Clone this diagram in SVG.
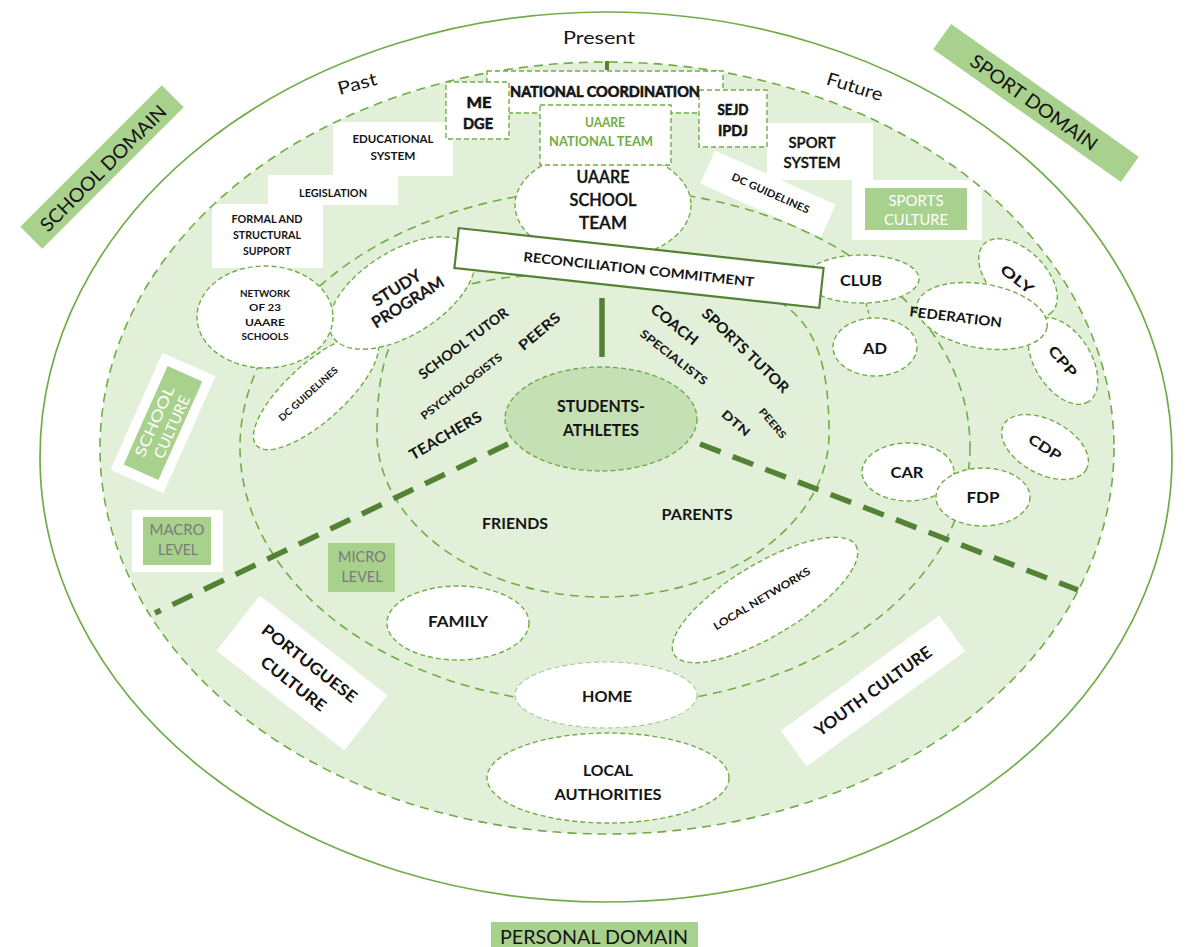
<svg xmlns="http://www.w3.org/2000/svg" width="1188" height="947" viewBox="0 0 1188 947">
  <defs>
    <style>
      .t { font-family: Lato, "Liberation Sans", sans-serif; text-anchor: middle; dominant-baseline: central; fill: #141414; }
      .b { font-weight: 700; }
      .sb { font-weight: 600; stroke: #141414; stroke-width: 0.35; }
      .heavyT { stroke: #141414; stroke-width: 0.6; }
      .band { fill: none; stroke: #70AD47; stroke-width: 1.6; stroke-dasharray: 9 6; }
      .node { fill: #ffffff; stroke: #70AD47; stroke-width: 1.4; stroke-dasharray: 5 3; }
      .nodeLight { fill: #ffffff; stroke: #a9c99a; stroke-width: 1.1; stroke-dasharray: 5 3; }
      .plain { fill: #ffffff; stroke: none; }
      .tag { fill: #A9D18E; stroke: none; }
      .heavy { fill: none; stroke: #548235; stroke-width: 5.5; stroke-dasharray: 22 13; }
      .grey { fill: #7a7a7a; }
      .white { fill: #ffffff; }
      .green { fill: #70AD47; }
    </style>
  </defs>

  <rect width="1188" height="947" fill="#ffffff"/>

  <!-- domain rings -->
  <g id="rings">
    <ellipse cx="606" cy="457" rx="566" ry="445" fill="#ffffff" stroke="#70AD47" stroke-width="1.7"/>
    <ellipse cx="607" cy="448" rx="507" ry="386" fill="#E2F0D9"/>
    <ellipse cx="605" cy="447" rx="365" ry="258" fill="#ffffff" class="band"/>
  </g>

  <!-- stepped blocks of the school side -->
  <g id="educational-system">
    <rect class="plain" x="333" y="122" width="120" height="54"/>
    <text class="t b" x="393" y="138" font-size="11" textLength="81" lengthAdjust="spacingAndGlyphs">EDUCATIONAL</text>
    <text class="t b" x="393" y="155" font-size="11" textLength="45" lengthAdjust="spacingAndGlyphs">SYSTEM</text>
  </g>
  <g id="legislation">
    <rect class="plain" x="268" y="175" width="130" height="30"/>
    <text class="t b" x="333" y="192" font-size="11" textLength="68" lengthAdjust="spacingAndGlyphs">LEGISLATION</text>
  </g>
  <g id="formal-support">
    <rect class="plain" x="212" y="204" width="111" height="64"/>
    <text class="t b" x="267" y="218" font-size="11" textLength="71" lengthAdjust="spacingAndGlyphs">FORMAL AND</text>
    <text class="t b" x="267" y="234" font-size="11" textLength="68" lengthAdjust="spacingAndGlyphs">STRUCTURAL</text>
    <text class="t b" x="267" y="250" font-size="11" textLength="48" lengthAdjust="spacingAndGlyphs">SUPPORT</text>
  </g>

  <!-- stepped blocks of the sport side -->
  <g id="sport-system">
    <rect class="plain" x="767" y="123" width="106" height="57"/>
    <text class="t sb" x="812" y="142" font-size="15" textLength="47" lengthAdjust="spacingAndGlyphs">SPORT</text>
    <text class="t sb" x="812" y="162" font-size="15" textLength="57" lengthAdjust="spacingAndGlyphs">SYSTEM</text>
  </g>
  <g id="dc-guidelines-sport" transform="translate(768,194) rotate(24)">
    <rect class="plain" x="-66" y="-18" width="132" height="36"/>
    <text class="t b" x="2" y="-2" font-size="10.5" textLength="84" lengthAdjust="spacingAndGlyphs">DC GUIDELINES</text>
  </g>
  <g id="sports-culture">
    <rect class="plain" x="852" y="180" width="130" height="60"/>
    <rect class="tag" x="865" y="188" width="102" height="42"/>
    <text class="t white" x="916" y="200" font-size="15" textLength="55" lengthAdjust="spacingAndGlyphs">SPORTS</text>
    <text class="t white" x="916" y="219" font-size="15" textLength="64" lengthAdjust="spacingAndGlyphs">CULTURE</text>
  </g>

  <!-- macro ring outline -->
  <ellipse class="band" cx="607" cy="448" rx="507" ry="386"/>

  <!-- micro ring -->
  <path id="micro-ring" class="band" d="M603,273 C784,273 829,304 829,434 C829,524 727,597 603,597 C479,597 377,524 377,434 C377,304 422,273 603,273 Z"/>

  <!-- connectors -->
  <g id="connectors">
    <line class="heavy" x1="508" y1="444" x2="155" y2="613"/>
    <line class="heavy" x1="700" y1="444" x2="1078" y2="590"/>
    <line x1="602" y1="298" x2="602" y2="357" stroke="#548235" stroke-width="5.5"/>
    <line x1="607" y1="61" x2="607" y2="70" stroke="#548235" stroke-width="4"/>
    <line x1="866" y1="303" x2="870" y2="318" stroke="#70AD47" stroke-width="1.4" stroke-dasharray="4 3"/>
  </g>

  <!-- central person -->
  <g id="students-athletes">
    <ellipse cx="601" cy="419" rx="96" ry="52" fill="#C5E0B4" stroke="#70AD47" stroke-width="1.4" stroke-dasharray="5 3"/>
    <text class="t b" x="601" y="405" font-size="17" textLength="88" lengthAdjust="spacingAndGlyphs">STUDENTS-</text>
    <text class="t b" x="601" y="429" font-size="17" textLength="76" lengthAdjust="spacingAndGlyphs">ATHLETES</text>
  </g>

  <!-- school-side micro actors -->
  <g id="school-tutor"><text class="t b" font-size="14" textLength="108" lengthAdjust="spacingAndGlyphs" transform="translate(463,343) rotate(-37)">SCHOOL TUTOR</text></g>
  <g id="peers-school"><text class="t b" font-size="14" textLength="50" lengthAdjust="spacingAndGlyphs" transform="translate(539,331) rotate(-40)">PEERS</text></g>
  <g id="psychologists"><text class="t b" font-size="11" textLength="100" lengthAdjust="spacingAndGlyphs" transform="translate(461,386) rotate(-38)">PSYCHOLOGISTS</text></g>
  <g id="teachers"><text class="t b" font-size="15" textLength="81" lengthAdjust="spacingAndGlyphs" transform="translate(445,435) rotate(-30)">TEACHERS</text></g>

  <!-- sport-side micro actors -->
  <g id="coach"><text class="t b" font-size="15" textLength="56" lengthAdjust="spacingAndGlyphs" transform="translate(675,324) rotate(39)">COACH</text></g>
  <g id="specialists"><text class="t b" font-size="11.5" textLength="82" lengthAdjust="spacingAndGlyphs" transform="translate(674,357) rotate(38)">SPECIALISTS</text></g>
  <g id="sports-tutor"><text class="t b" font-size="15" textLength="114" lengthAdjust="spacingAndGlyphs" transform="translate(746,350) rotate(44)">SPORTS TUTOR</text></g>
  <g id="dtn"><text class="t b" font-size="12" textLength="33" lengthAdjust="spacingAndGlyphs" transform="translate(736,423) rotate(41)">DTN</text></g>
  <g id="peers-sport"><text class="t b" font-size="10" textLength="36" lengthAdjust="spacingAndGlyphs" transform="translate(773,423) rotate(50)">PEERS</text></g>

  <!-- personal-side micro actors -->
  <g id="friends"><text class="t b" x="515" y="523" font-size="15" textLength="66" lengthAdjust="spacingAndGlyphs">FRIENDS</text></g>
  <g id="parents"><text class="t b" x="697" y="514" font-size="15" textLength="71" lengthAdjust="spacingAndGlyphs">PARENTS</text></g>

  <g id="family">
    <ellipse class="node" cx="458" cy="623" rx="71" ry="37"/>
    <text class="t b" x="458" y="620" font-size="16" textLength="60" lengthAdjust="spacingAndGlyphs">FAMILY</text>
  </g>
  <g id="local-networks" transform="translate(765,600) rotate(-31)">
    <ellipse class="node" cx="0" cy="0" rx="106" ry="36"/>
    <text class="t b" x="-2" y="-3" font-size="10.5" textLength="111" lengthAdjust="spacingAndGlyphs">LOCAL NETWORKS</text>
  </g>
  <g id="home">
    <ellipse class="nodeLight" cx="606" cy="695" rx="91" ry="33"/>
    <text class="t b" x="607" y="696" font-size="15.5" textLength="50" lengthAdjust="spacingAndGlyphs">HOME</text>
  </g>
  <g id="local-authorities">
    <ellipse class="node" cx="608" cy="778" rx="121" ry="45"/>
    <text class="t b" x="608" y="769" font-size="16" textLength="50" lengthAdjust="spacingAndGlyphs">LOCAL</text>
    <text class="t b" x="608" y="793" font-size="16" textLength="107" lengthAdjust="spacingAndGlyphs">AUTHORITIES</text>
  </g>

  <!-- school-side meso actors -->
  <g id="dc-guidelines-school" transform="translate(316,392) rotate(-42)">
    <ellipse class="node" cx="0" cy="0" rx="80" ry="29"/>
    <text class="t b" x="-7" y="-4" font-size="9.5" textLength="76" lengthAdjust="spacingAndGlyphs">DC GUIDELINES</text>
  </g>
  <g id="study-program" transform="translate(402,293) rotate(-32)">
    <ellipse class="node" cx="0" cy="0" rx="82" ry="42"/>
    <text class="t sb" x="-2" y="-8" font-size="16" textLength="54" lengthAdjust="spacingAndGlyphs">STUDY</text>
    <text class="t sb" x="0" y="10" font-size="16" textLength="82" lengthAdjust="spacingAndGlyphs">PROGRAM</text>
  </g>
  <g id="network-schools">
    <ellipse class="node" cx="265" cy="317" rx="68" ry="51"/>
    <text class="t b" x="265" y="293" font-size="9.5" textLength="50" lengthAdjust="spacingAndGlyphs">NETWORK</text>
    <text class="t b" x="265" y="307" font-size="9.5" textLength="32" lengthAdjust="spacingAndGlyphs">OF 23</text>
    <text class="t b" x="265" y="322" font-size="9.5" textLength="40" lengthAdjust="spacingAndGlyphs">UAARE</text>
    <text class="t b" x="265" y="336" font-size="9.5" textLength="47" lengthAdjust="spacingAndGlyphs">SCHOOLS</text>
  </g>

  <!-- sport-side meso actors -->
  <g id="oly" transform="translate(1018,278) rotate(45)">
    <ellipse class="node" cx="0" cy="0" rx="48" ry="28"/>
    <text class="t b" x="0" y="1" font-size="14" textLength="38" lengthAdjust="spacingAndGlyphs" transform="rotate(-7)">OLY</text>
  </g>
  <g id="cpp" transform="translate(1063,361) rotate(58)">
    <ellipse class="node" cx="0" cy="0" rx="48" ry="28"/>
    <text class="t b" x="0" y="0" font-size="14" textLength="36" lengthAdjust="spacingAndGlyphs" transform="rotate(-8)">CPP</text>
  </g>
  <g id="federation" transform="translate(982,316) rotate(10)">
    <ellipse class="node" cx="0" cy="0" rx="66" ry="32"/>
    <text class="t b" x="-26" y="4" font-size="13.5" textLength="93" lengthAdjust="spacingAndGlyphs" transform="rotate(-3)">FEDERATION</text>
  </g>
  <g id="club">
    <ellipse class="node" cx="862" cy="279" rx="57" ry="24"/>
    <text class="t b" x="861" y="280" font-size="15.5" textLength="42" lengthAdjust="spacingAndGlyphs">CLUB</text>
  </g>
  <g id="ad">
    <ellipse class="node" cx="875" cy="347" rx="42" ry="29"/>
    <text class="t b" x="875" y="348" font-size="15.5" textLength="24" lengthAdjust="spacingAndGlyphs">AD</text>
  </g>
  <g id="cdp" transform="translate(1045,447) rotate(28)">
    <ellipse class="node" cx="0" cy="0" rx="47" ry="27"/>
    <text class="t b" x="0" y="0" font-size="14" textLength="36" lengthAdjust="spacingAndGlyphs" transform="rotate(5)">CDP</text>
  </g>
  <g id="car">
    <ellipse class="node" cx="908" cy="472" rx="46" ry="29"/>
    <text class="t b" x="907" y="472" font-size="15.5" textLength="33" lengthAdjust="spacingAndGlyphs">CAR</text>
  </g>
  <g id="fdp">
    <ellipse class="node" cx="983" cy="497" rx="47" ry="29"/>
    <text class="t b" x="983" y="497" font-size="15.5" textLength="33" lengthAdjust="spacingAndGlyphs">FDP</text>
  </g>

  <!-- national level -->
  <g id="uaare-school-team">
    <ellipse class="node" cx="603" cy="205" rx="88" ry="55"/>
    <text class="t sb" x="603" y="176" font-size="17" textLength="53" lengthAdjust="spacingAndGlyphs">UAARE</text>
    <text class="t sb" x="603" y="199" font-size="17" textLength="67" lengthAdjust="spacingAndGlyphs">SCHOOL</text>
    <text class="t sb" x="603" y="222" font-size="17" textLength="48" lengthAdjust="spacingAndGlyphs">TEAM</text>
  </g>
  <g id="national-coordination">
    <rect class="node" x="487" y="71" width="236" height="42"/>
  </g>
  <g id="uaare-national-team">
    <rect class="node" x="540" y="105" width="131" height="60"/>
    <text class="t b green" x="605" y="122" font-size="12.5" textLength="40" lengthAdjust="spacingAndGlyphs">UAARE</text>
    <text class="t b green" x="601" y="141" font-size="12.5" textLength="104" lengthAdjust="spacingAndGlyphs">NATIONAL TEAM</text>
  </g>
  <g id="me-dge">
    <rect class="node" x="446" y="82" width="63" height="57"/>
    <text class="t b heavyT" x="479" y="101" font-size="16" textLength="25" lengthAdjust="spacingAndGlyphs">ME</text>
    <text class="t b heavyT" x="478" y="122" font-size="16" textLength="30" lengthAdjust="spacingAndGlyphs">DGE</text>
  </g>
  <g id="sejd-ipdj">
    <rect class="node" x="699" y="90" width="68" height="57"/>
    <text class="t b heavyT" x="733" y="108" font-size="16" textLength="31" lengthAdjust="spacingAndGlyphs">SEJD</text>
    <text class="t b heavyT" x="733" y="129" font-size="16" textLength="30" lengthAdjust="spacingAndGlyphs">IPDJ</text>
  </g>
  <text class="t b heavyT" x="605" y="91" font-size="14.5" textLength="190" lengthAdjust="spacingAndGlyphs">NATIONAL COORDINATION</text>

  <g id="reconciliation-commitment" transform="translate(639,268) rotate(6.25)">
    <rect x="-183.5" y="-20" width="367" height="40" fill="#ffffff" stroke="#548235" stroke-width="2.2"/>
    <text class="t b" x="0" y="1" font-size="13" textLength="232" lengthAdjust="spacingAndGlyphs">RECONCILIATION COMMITMENT</text>
  </g>

  <!-- culture and level tags -->
  <g id="school-culture" transform="translate(163,423) rotate(-66)">
    <rect class="plain" x="-64" y="-29" width="128" height="58"/>
    <rect class="tag" x="-54" y="-19" width="108" height="38"/>
    <text class="t white" x="-2" y="-9" font-size="15" textLength="76" lengthAdjust="spacingAndGlyphs">SCHOOL</text>
    <text class="t white" x="0" y="9" font-size="15" textLength="67" lengthAdjust="spacingAndGlyphs">CULTURE</text>
  </g>
  <g id="macro-level">
    <rect class="plain" x="132" y="510" width="91" height="62"/>
    <rect class="tag" x="143" y="517" width="68" height="48"/>
    <text class="t grey" x="177" y="529" font-size="14.5" textLength="55" lengthAdjust="spacingAndGlyphs">MACRO</text>
    <text class="t grey" x="178" y="549" font-size="14.5" textLength="40" lengthAdjust="spacingAndGlyphs">LEVEL</text>
  </g>
  <g id="micro-level">
    <rect class="tag" x="328" y="543" width="67" height="49"/>
    <text class="t grey" x="362" y="556" font-size="14.5" textLength="48" lengthAdjust="spacingAndGlyphs">MICRO</text>
    <text class="t grey" x="362" y="576" font-size="14.5" textLength="41" lengthAdjust="spacingAndGlyphs">LEVEL</text>
  </g>
  <g id="portuguese-culture" transform="translate(302,673) rotate(38)">
    <rect class="plain" x="-81" y="-35" width="162" height="70"/>
    <text class="t b" x="0" y="-13" font-size="16" textLength="116" lengthAdjust="spacingAndGlyphs">PORTUGUESE</text>
    <text class="t b" x="0" y="13" font-size="16" textLength="78" lengthAdjust="spacingAndGlyphs">CULTURE</text>
  </g>
  <g id="youth-culture" transform="translate(873,691) rotate(-36)">
    <rect class="plain" x="-98" y="-22" width="196" height="44"/>
    <text class="t b" x="0" y="0" font-size="16.5" textLength="140" lengthAdjust="spacingAndGlyphs">YOUTH CULTURE</text>
  </g>

  <!-- time axis -->
  <g id="time-axis">
    <text class="t" x="599" y="37" font-size="18" textLength="72" lengthAdjust="spacingAndGlyphs">Present</text>
    <text class="t" font-size="18" textLength="40" lengthAdjust="spacingAndGlyphs" transform="translate(357,83) rotate(-15)">Past</text>
    <text class="t" font-size="18" textLength="58" lengthAdjust="spacingAndGlyphs" transform="translate(855,86) rotate(17)">Future</text>
  </g>

  <!-- domains -->
  <g id="school-domain" transform="translate(102,167) rotate(-45)">
    <rect class="tag" x="-100" y="-15.5" width="200" height="31"/>
    <text class="t" x="0" y="1" font-size="19" textLength="170" lengthAdjust="spacingAndGlyphs">SCHOOL DOMAIN</text>
  </g>
  <g id="sport-domain" transform="translate(1036,103) rotate(35.3)">
    <rect class="tag" x="-115" y="-15.5" width="230" height="31"/>
    <text class="t" x="-2" y="0" font-size="19" textLength="151" lengthAdjust="spacingAndGlyphs">SPORT DOMAIN</text>
  </g>
  <g id="personal-domain">
    <rect class="tag" x="491" y="922" width="207" height="30"/>
    <text class="t" x="594" y="936" font-size="19" textLength="188" lengthAdjust="spacingAndGlyphs">PERSONAL DOMAIN</text>
  </g>
</svg>
